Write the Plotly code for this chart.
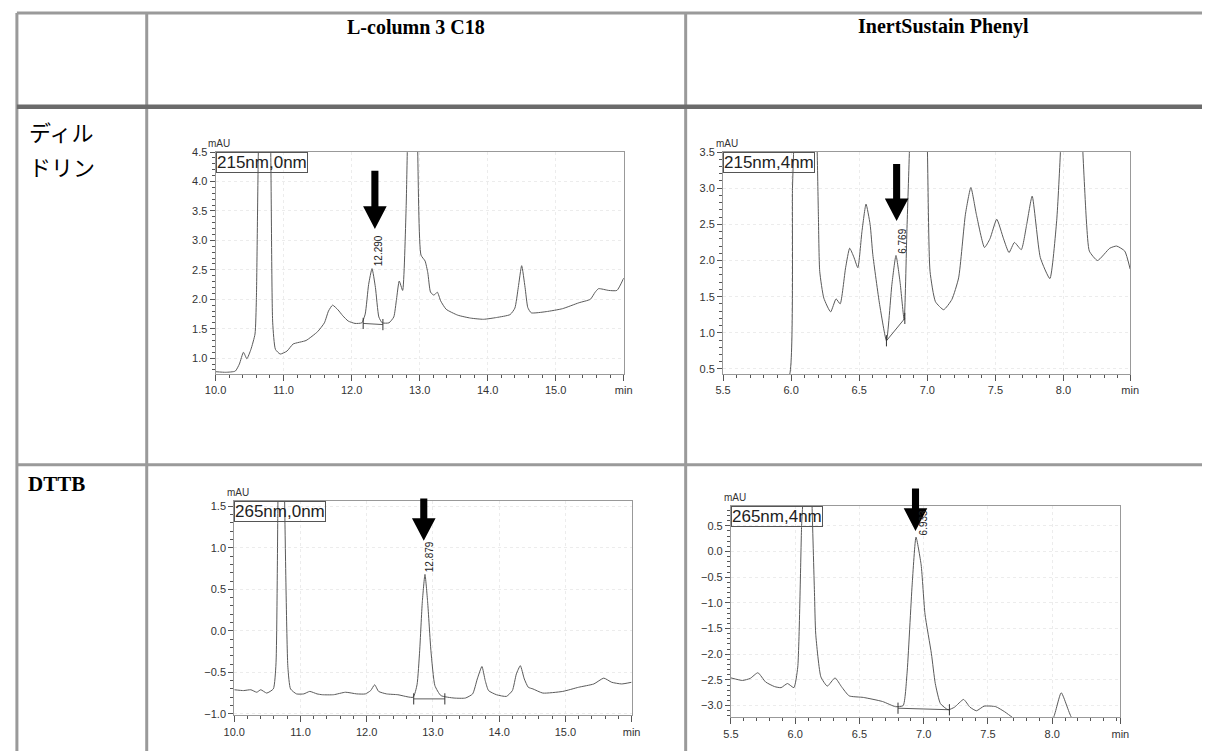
import plotly.graph_objects as go

W, H = 1211, 755

# ---------------- data ----------------
# Panel 1: ディルドリン / L-column 3 C18, 215 nm
p1_t = [10.0, 10.15, 10.29, 10.35, 10.41, 10.46, 10.52, 10.58, 10.60, 10.63, 10.72, 10.81, 10.84,
        10.88, 10.95, 11.05, 11.14, 11.33, 11.50, 11.60, 11.66, 11.72, 11.80, 11.87, 11.95, 12.05,
        12.15, 12.20, 12.25, 12.30, 12.35, 12.40, 12.45, 12.55, 12.62, 12.66, 12.70, 12.75, 12.80,
        12.82, 12.89, 12.97, 13.02, 13.08, 13.12, 13.16, 13.21, 13.26, 13.31, 13.39, 13.56, 13.75,
        13.94, 14.13, 14.33, 14.40, 14.45, 14.50, 14.55, 14.59, 14.64, 14.86, 15.10, 15.34, 15.51,
        15.58, 15.63, 15.78, 15.90, 16.0]
p1_y = [0.77, 0.76, 0.78, 0.90, 1.10, 0.99, 1.15, 1.41, 2.0, 4.6, 9.0, 4.6, 1.6,
        1.15, 1.07, 1.12, 1.24, 1.30, 1.45, 1.60, 1.80, 1.90, 1.82, 1.72, 1.63, 1.59,
        1.60, 1.75, 2.25, 2.52, 2.20, 1.70, 1.60, 1.60, 1.70, 2.0, 2.31, 2.15, 3.5,
        4.6, 9.0, 4.6, 2.75, 2.65, 2.45, 2.12, 2.07, 2.12, 1.97, 1.83, 1.73, 1.68,
        1.66, 1.69, 1.74, 1.85, 2.2, 2.57, 2.2, 1.86, 1.77, 1.79, 1.84, 1.94, 2.0,
        2.12, 2.18, 2.15, 2.15, 2.36]

# Panel 2: ディルドリン / InertSustain Phenyl, 215 nm
p2_t = [5.90, 5.99, 6.01, 6.02, 6.10, 6.19, 6.20, 6.21, 6.24, 6.29, 6.33, 6.36, 6.40, 6.43, 6.46,
        6.49, 6.52, 6.55, 6.58, 6.60, 6.65, 6.70, 6.74, 6.77, 6.80, 6.83, 6.85, 6.87, 6.935, 7.0,
        7.02, 7.06, 7.12, 7.18, 7.23, 7.28, 7.32, 7.36, 7.42, 7.46, 7.51, 7.56, 7.60, 7.64, 7.69,
        7.73, 7.77, 7.83, 7.90, 7.95, 7.98, 8.06, 8.14, 8.17, 8.19, 8.25, 8.34, 8.39, 8.45, 8.49]
p2_y = [0.1, 0.43, 3.0, 3.6, 8.0, 3.6, 2.64, 1.85, 1.48, 1.29, 1.47, 1.40, 1.9, 2.17, 2.05,
        1.90, 2.4, 2.78, 2.5, 2.08, 1.39, 0.89, 1.67, 2.07, 1.7, 1.18, 2.4, 3.6, 8.0, 3.6,
        1.85, 1.43, 1.32, 1.46, 1.76, 2.64, 3.01, 2.64, 2.18, 2.3, 2.57, 2.3, 2.11, 2.25, 2.15,
        2.5, 2.89, 2.04, 1.75, 2.55, 3.6, 8.0, 3.6, 2.5, 2.13, 2.0, 2.17, 2.20, 2.13, 1.88]

# Panel 3: DTTB / L-column 3 C18, 265 nm
p3_t = [10.0, 10.14, 10.25, 10.34, 10.40, 10.49, 10.59, 10.63, 10.66, 10.71, 10.76, 10.81, 10.85,
        10.94, 11.05, 11.14, 11.25, 11.33, 11.50, 11.68, 11.85, 11.98, 12.06, 12.12, 12.18, 12.30,
        12.47, 12.70, 12.76, 12.80, 12.84, 12.88, 12.92, 12.97, 13.03, 13.12, 13.32, 13.49, 13.60,
        13.67, 13.74, 13.79, 13.84, 13.96, 14.11, 14.20, 14.26, 14.32, 14.38, 14.44, 14.51, 14.66,
        14.96, 15.20, 15.43, 15.58, 15.70, 15.85, 16.0]
p3_y = [-0.71, -0.72, -0.71, -0.74, -0.71, -0.75, -0.70, -0.4, 1.6, 5.0, 1.6, -0.44, -0.70,
        -0.76, -0.76, -0.73, -0.76, -0.77, -0.77, -0.74, -0.76, -0.76, -0.72, -0.65, -0.73, -0.76,
        -0.77, -0.80, -0.65, -0.24, 0.35, 0.68, 0.35, -0.24, -0.66, -0.78, -0.81, -0.81, -0.76,
        -0.58, -0.43, -0.60, -0.72, -0.77, -0.79, -0.72, -0.52, -0.42, -0.58, -0.68, -0.70, -0.75,
        -0.73, -0.68, -0.64, -0.57, -0.62, -0.64, -0.62]

# Panel 4: DTTB / InertSustain Phenyl, 265 nm
p4_t = [5.5, 5.59, 5.65, 5.71, 5.77, 5.84, 5.89, 5.94, 5.99, 6.02, 6.05, 6.06, 6.095, 6.13, 6.15,
        6.16, 6.20, 6.25, 6.31, 6.36, 6.42, 6.53, 6.68, 6.78, 6.84, 6.87, 6.91, 6.94, 6.98, 7.01,
        7.06, 7.09, 7.13, 7.19, 7.24, 7.31, 7.36, 7.41, 7.47, 7.56, 7.63, 7.69, 7.75, 7.95, 8.01,
        8.07, 8.15, 8.25, 8.53]
p4_y = [-2.46, -2.51, -2.47, -2.36, -2.54, -2.63, -2.65, -2.57, -2.65, -2.25, 0.5, 1.0, 4.0, 1.0, -0.8,
        -1.61, -2.44, -2.62, -2.46, -2.63, -2.81, -2.84, -2.92, -3.02, -3.00, -2.38, -0.65, 0.28, -0.26, -1.22,
        -1.99, -2.57, -2.96, -3.08, -3.03, -2.88, -3.03, -3.10, -3.01, -3.02, -3.12, -3.23, -3.35, -3.4, -3.23,
        -2.75, -3.23, -3.45, -3.5]

# integration baselines (start, end)
bl_t = [[12.17, 12.46], [6.70, 6.835], [12.71, 13.18], [6.80, 7.20]]
bl_y = [[1.59, 1.57], [0.89, 1.20], [-0.82, -0.82], [-3.05, -3.08]]

# retention time labels
rt_text = ["12.290", "6.769", "12.879", "6.933"]
rt_x = [12.40, 6.82, 12.96, 7.00]
rt_y = [2.83, 2.27, 0.89, 0.56]

# detector labels
det_text = ["215nm,0nm", "215nm,4nm", "265nm,0nm", "265nm,4nm"]

# tick labels
x_ticks = [[10, 11, 12, 13, 14, 15, 16.0], [5.5, 6.0, 6.5, 7.0, 7.5, 8.0, 8.49],
           [10, 11, 12, 13, 14, 15, 16.0], [5.5, 6.0, 6.5, 7.0, 7.5, 8.0, 8.53]]
x_tick_text = [["10.0", "11.0", "12.0", "13.0", "14.0", "15.0", "min"],
               ["5.5", "6.0", "6.5", "7.0", "7.5", "8.0", "min"],
               ["10.0", "11.0", "12.0", "13.0", "14.0", "15.0", "min"],
               ["5.5", "6.0", "6.5", "7.0", "7.5", "8.0", "min"]]
x_ranges = [[10, 16.0], [5.5, 8.49], [10, 16.0], [5.5, 8.53]]
y_ranges = [[0.73, 4.5], [0.43, 3.5], [-1.02, 1.56], [-3.23, 0.88]]
x_minor = [0.2, 0.1, 0.2, 0.1]

col_headers = ["L-column 3 C18", "InertSustain Phenyl"]
row_headers = [["ディル", "ドリン"], ["DTTB"]]

# ---------------- layout geometry (pixels) ----------------
boxes = [(208, 623, 148, 373), (724, 1138, 148, 373), (227, 631, 502, 719), (732, 1128, 507, 721)]
arrows = [(370, 167, 226), (900.5, 160, 218), (419.7, 499, 542), (919.7, 489, 532)]


def fx(x):
    return x / W


def fy(y):
    return 1 - y / H


fig = go.Figure()
series = [(p1_t, p1_y), (p2_t, p2_y), (p3_t, p3_y), (p4_t, p4_y)]
layout = dict()
annotations = []
shapes = []

tick_font = dict(family="Liberation Sans, Arial, sans-serif", size=11, color="#333")

for i in range(4):
    sfx = "" if i == 0 else str(i + 1)
    xa, ya = "x" + sfx, "y" + sfx
    L, R, T, B = boxes[i]
    t, y = series[i]
    fig.add_trace(go.Scatter(x=t, y=y, xaxis=xa, yaxis=ya, mode="lines",
                             line=dict(color="#5a5a5a", width=1, shape="spline", smoothing=0.5),
                             hoverinfo="skip", showlegend=False))
    fig.add_trace(go.Scatter(x=bl_t[i], y=bl_y[i], xaxis=xa, yaxis=ya, mode="lines+markers",
                             line=dict(color="#333", width=0.8),
                             marker=dict(symbol="line-ns", size=8, line=dict(color="#333", width=1)),
                             hoverinfo="skip", showlegend=False))
    layout["xaxis" + sfx] = dict(
        domain=[fx(L), fx(R)], range=x_ranges[i], anchor=ya,
        tickmode="array", tickvals=x_ticks[i], ticktext=x_tick_text[i],
        ticks="outside", ticklen=6, tickcolor="#555", tickwidth=1,
        showline=True, linecolor="#999", linewidth=1, mirror=True,
        showgrid=True, gridcolor="#ececec", griddash="dot", gridwidth=1,
        zeroline=False, tickfont=tick_font, fixedrange=True,
        minor=dict(tickmode="linear", tick0=x_ranges[i][0], dtick=x_minor[i], ticks="outside",
                   ticklen=3, tickcolor="#555", showgrid=False),
    )
    layout["yaxis" + sfx] = dict(
        domain=[fy(B), fy(T)], range=y_ranges[i], anchor=xa,
        tickmode="linear", tick0=0, dtick=0.5, tickformat=".1f",
        ticks="outside", ticklen=5, tickcolor="#555", tickwidth=1,
        showline=True, linecolor="#999", linewidth=1, mirror=True,
        showgrid=True, gridcolor="#ececec", griddash="dot", gridwidth=1,
        zeroline=False, tickfont=tick_font, fixedrange=True,
        minor=dict(tickmode="linear", tick0=0, dtick=0.1, ticks="outside",
                   ticklen=3, tickcolor="#555", showgrid=False),
    )
    # mAU
    annotations.append(dict(text="mAU", xref="paper", yref="paper", x=fx(L + 4), y=fy(T - 1),
                            xanchor="center", yanchor="bottom", showarrow=False,
                            font=dict(family="Liberation Sans, Arial, sans-serif", size=10, color="#333")))
    # detector box
    annotations.append(dict(text=det_text[i], xref=xa + " domain", yref=ya + " domain", x=0, y=1,
                            xanchor="left", yanchor="top", showarrow=False,
                            bordercolor="#555", borderwidth=1, borderpad=0,
                            font=dict(family="Liberation Sans, Arial, sans-serif", size=17, color="#222")))
    # rt label
    annotations.append(dict(text=rt_text[i], xref=xa, yref=ya, x=rt_x[i], y=rt_y[i], textangle=-90,
                            showarrow=False,
                            font=dict(family="Liberation Sans, Arial, sans-serif", size=10, color="#222")))
    # thick black arrow
    cx, top, tip = arrows[i]
    sw, hw, hh = 3.6, 12, 23
    pts = [(cx - sw, top), (cx + sw, top), (cx + sw, tip - hh), (cx + hw, tip - hh), (cx, tip),
           (cx - hw, tip - hh), (cx - sw, tip - hh)]
    path = "M " + " L ".join(f"{fx(a):.5f},{fy(b):.5f}" for a, b in pts) + " Z"
    shapes.append(dict(type="path", xref="paper", yref="paper", path=path,
                       fillcolor="black", line=dict(width=0)))

# ---------------- table lines ----------------
grey = "#9a9a9a"
table_lines = [
    (6, 7, 1211, 7, grey, 3),
    (6, 7, 6, 755, grey, 3),
    (138, 7, 138, 755, grey, 3),
    (686, 7, 686, 755, grey, 3),
    (6, 465, 1211, 465, grey, 3),
    (6, 102, 1211, 102, "#6b6b6b", 4.5),
]
for x0, y0, x1, y1, c, w in table_lines:
    shapes.append(dict(type="line", xref="paper", yref="paper", x0=fx(x0), y0=fy(y0), x1=fx(x1), y1=fy(y1),
                       line=dict(color=c, width=w), layer="below"))

# headers
for j, cx in enumerate([412, 948]):
    annotations.append(dict(text="<b>" + col_headers[j] + "</b>", xref="paper", yref="paper",
                            x=fx(cx), y=fy(21), xanchor="center", yanchor="middle", showarrow=False,
                            font=dict(family="Liberation Serif, Times New Roman, serif", size=20, color="black")))
for k, (txt, yc) in enumerate(zip(row_headers[0], [127, 162])):
    annotations.append(dict(text=txt, xref="paper", yref="paper", x=fx(16), y=fy(yc),
                            xanchor="left", yanchor="middle", showarrow=False,
                            font=dict(family="Noto Sans CJK JP", size=22, color="black")))
annotations.append(dict(text="<b>" + row_headers[1][0] + "</b>", xref="paper", yref="paper", x=fx(15), y=fy(484),
                        xanchor="left", yanchor="middle", showarrow=False,
                        font=dict(family="Liberation Serif, Times New Roman, serif", size=21, color="black")))

fig.update_layout(**layout)
fig.update_layout(width=W, height=H, margin=dict(l=0, r=0, t=0, b=0, pad=0),
                  paper_bgcolor="white", plot_bgcolor="white",
                  annotations=annotations, shapes=shapes, showlegend=False)
fig.write_html("out.html", config={"displayModeBar": False})
